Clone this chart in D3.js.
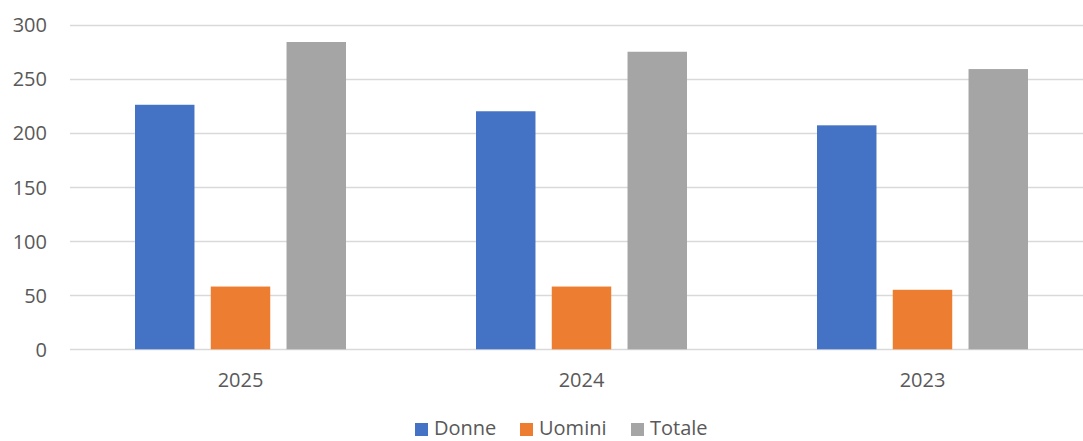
<!DOCTYPE html>
<html><head><meta charset="utf-8">
<script src="https://cdn.jsdelivr.net/npm/d3@7"></script>
<style>body{margin:0;background:#fff;overflow:hidden}svg{display:block}text{font-family:"Open Sans","Noto Sans",sans-serif;fill:#595959}</style>
</head><body><svg id="c" width="1083" height="441"></svg>
<script>
const categories = ["2025", "2024", "2023"];
const seriesNames = ["Donne", "Uomini", "Totale"];
const donne = [226, 220, 207];
const uomini = [58, 58, 55];
const totale = [284, 275, 259];
const yTicks = [0, 50, 100, 150, 200, 250, 300];
const colors = ["#4472C4", "#ED7D31", "#A5A5A5"];

(function () {
const seriesValues = [donne, uomini, totale];
const svg = d3.select("#c");
const pLeft = 70, pRight = 1093, pTop = 24.7, pBottom = 349.3;
const font = "'Open Sans','Noto Sans',sans-serif";

const x0 = d3.scaleBand().domain(categories).range([pLeft, pRight]).paddingInner(0).paddingOuter(0);
const x1 = d3.scaleBand().domain(seriesNames).range([65, x0.bandwidth() - 65]).paddingInner(0.215).paddingOuter(0);
const y = d3.scaleLinear().domain([0, 300]).range([pBottom, pTop]);

// gridlines
svg.append("g").selectAll("line").data(yTicks).join("line")
  .attr("x1", pLeft).attr("x2", pRight)
  .attr("y1", d => Math.round(y(d)) + 0.5).attr("y2", d => Math.round(y(d)) + 0.5)
  .attr("stroke", "#d9d9d9").attr("stroke-width", 1.3);

// y axis labels
const yAxis = d3.axisLeft(y).tickValues(yTicks).tickSize(0).tickPadding(0);
const gy = svg.append("g").attr("transform", "translate(47,0)").call(yAxis);
gy.select(".domain").remove();
gy.selectAll("text").style("font-size", "20px").style("font-family", font).attr("fill", "#595959").attr("dy", "0.35em");

// bars
const groups = svg.append("g").selectAll("g").data(categories).join("g")
  .attr("transform", d => `translate(${x0(d)},0)`);
groups.selectAll("rect").data((c, i) => seriesNames.map((s, j) => ({s, v: seriesValues[j][i], j})))
  .join("rect")
  .attr("x", d => x1(d.s)).attr("width", x1.bandwidth())
  .attr("y", d => y(d.v)).attr("height", d => y(0) - y(d.v))
  .attr("fill", d => colors[d.j]);

// x axis labels
const xAxis = d3.axisBottom(x0).tickSize(0).tickPadding(0);
const gx = svg.append("g").attr("transform", "translate(0,387)").call(xAxis);
gx.select(".domain").remove();
gx.selectAll("text").style("font-size", "20px").style("font-family", font).attr("fill", "#595959").attr("dy", "0");

// legend
const legendX = [415, 520, 631];
const lg = svg.append("g").selectAll("g").data(seriesNames).join("g")
  .attr("transform", (d, i) => `translate(${legendX[i]},0)`);
lg.append("rect").attr("x", 0).attr("y", 423).attr("width", 13).attr("height", 13)
  .attr("fill", (d, i) => colors[i]);
lg.append("text").attr("x", 19).attr("y", 435).style("font-size", "20px").style("font-family", font).text(d => d);
})();
</script></body></html>
